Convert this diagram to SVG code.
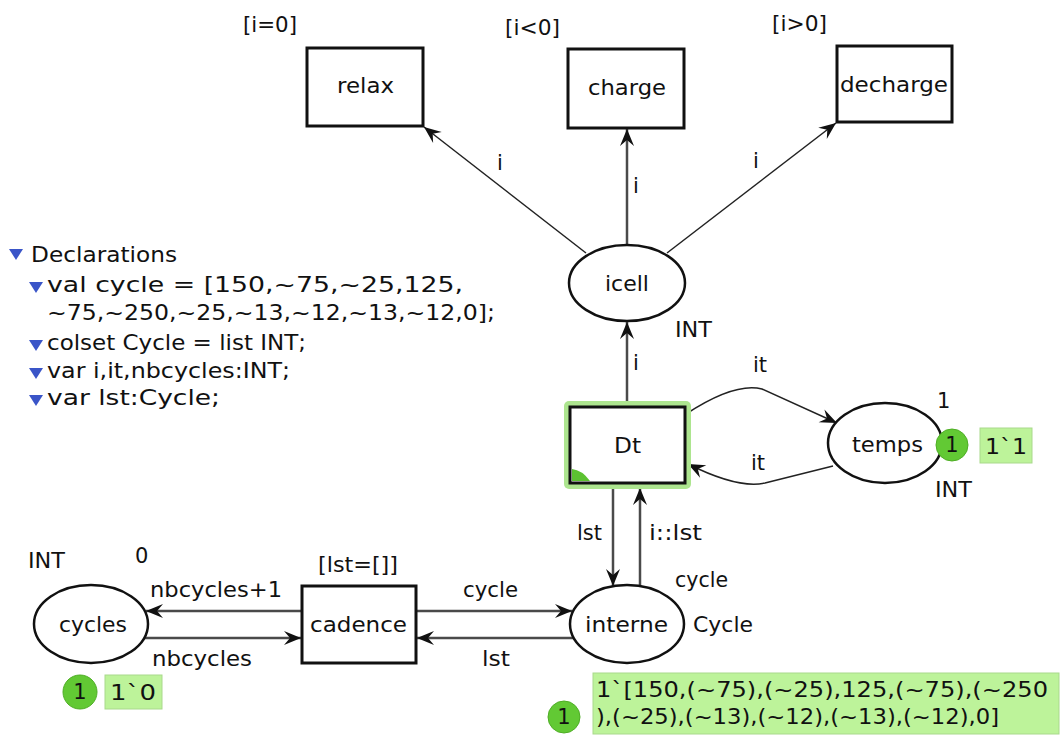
<svg xmlns="http://www.w3.org/2000/svg" width="1062" height="735" viewBox="0 0 1062 735">
<style>
.t{font-family:"DejaVu Sans",Verdana,sans-serif;font-size:21px;fill:#111}
.box{fill:#fff;stroke:#111;stroke-width:3}
.pl{fill:#fff;stroke:#111;stroke-width:2.5}
.arc{fill:none;stroke:#4a4a4a;stroke-width:2.5}
.arcd{fill:none;stroke:#222;stroke-width:1.5}
.tok{fill:#62c934;stroke:#4fae26;stroke-width:1}
.mk{fill:#bdf39a;stroke:#a9d98c;stroke-width:1}
.tri{fill:#3a55c8}
</style>
<defs>
<marker id="ah" viewBox="-18 -9 20 18" refX="0" refY="0" markerWidth="20" markerHeight="18" orient="auto" markerUnits="userSpaceOnUse">
<path d="M0,0 L-17,-7 L-11,0 L-17,7 Z" fill="#111"/>
</marker>
</defs>
<rect width="1062" height="735" fill="#fff"/>

<g id="connectors">
<line class="arcd" x1="586" y1="253" x2="424" y2="127" marker-end="url(#ah)"/>
<line class="arc" x1="627" y1="245" x2="627" y2="129" marker-end="url(#ah)"/>
<line class="arcd" x1="667" y1="253" x2="836" y2="123" marker-end="url(#ah)"/>
<line class="arc" x1="627" y1="401" x2="627" y2="322" marker-end="url(#ah)"/>
<path class="arcd" d="M686,414 Q735,382 762,389 L837,423" marker-end="url(#ah)"/>
<path class="arcd" d="M833,466 L765,483 Q738,489 688,464" marker-end="url(#ah)"/>
<line class="arc" x1="613" y1="489" x2="613" y2="586" marker-end="url(#ah)"/>
<line class="arc" x1="640" y1="586" x2="640" y2="488" marker-end="url(#ah)"/>
<line class="arc" x1="416" y1="611" x2="572" y2="611" marker-end="url(#ah)"/>
<line class="arc" x1="574" y1="638" x2="417" y2="638" marker-end="url(#ah)"/>
<line class="arc" x1="302" y1="611" x2="146" y2="611" marker-end="url(#ah)"/>
<line class="arc" x1="145" y1="638" x2="301" y2="638" marker-end="url(#ah)"/>
<text class="t" x="497" y="170">i</text>
<text class="t" x="633" y="193">i</text>
<text class="t" x="753" y="168">i</text>
<text class="t" x="633" y="370">i</text>
<text class="t" x="753" y="372">it</text>
<text class="t" x="751" y="470">it</text>
<text class="t" x="577" y="540" textLength="25" lengthAdjust="spacingAndGlyphs">lst</text>
<text class="t" x="649" y="540" textLength="53" lengthAdjust="spacingAndGlyphs">i::lst</text>
<text class="t" x="463" y="597" textLength="55" lengthAdjust="spacingAndGlyphs">cycle</text>
<text class="t" x="482" y="666" textLength="28" lengthAdjust="spacingAndGlyphs">lst</text>
<text class="t" x="150" y="597" textLength="132" lengthAdjust="spacingAndGlyphs">nbcycles+1</text>
<text class="t" x="152" y="666" textLength="100" lengthAdjust="spacingAndGlyphs">nbcycles</text>
</g>

<g id="declarations">
<path class="tri" d="M9,249 L23,249 L16,260 Z"/>
<text class="t" x="31" y="262" textLength="146" lengthAdjust="spacingAndGlyphs">Declarations</text>
<path class="tri" d="M29,282 L43,282 L36,293 Z"/>
<text class="t" x="47" y="292" textLength="416" lengthAdjust="spacingAndGlyphs">val cycle = [150,~75,~25,125,</text>
<text class="t" x="47" y="320" textLength="448" lengthAdjust="spacingAndGlyphs">~75,~250,~25,~13,~12,~13,~12,0];</text>
<path class="tri" d="M29,340 L43,340 L36,351 Z"/>
<text class="t" x="47" y="350" textLength="259" lengthAdjust="spacingAndGlyphs">colset Cycle = list INT;</text>
<path class="tri" d="M29,368 L43,368 L36,379 Z"/>
<text class="t" x="47" y="378" textLength="243" lengthAdjust="spacingAndGlyphs">var i,it,nbcycles:INT;</text>
<path class="tri" d="M29,395 L43,395 L36,406 Z"/>
<text class="t" x="47" y="405" textLength="173" lengthAdjust="spacingAndGlyphs">var lst:Cycle;</text>
</g>

<g id="relax">
<rect class="box" x="307" y="48" width="116" height="78"/>
<text class="t" x="337" y="93" textLength="57" lengthAdjust="spacingAndGlyphs">relax</text>
<text class="t" x="243" y="32" textLength="54" lengthAdjust="spacingAndGlyphs">[i=0]</text>
</g>
<g id="charge">
<rect class="box" x="568" y="49" width="116" height="79"/>
<text class="t" x="588" y="95" textLength="78" lengthAdjust="spacingAndGlyphs">charge</text>
<text class="t" x="505" y="35" textLength="55" lengthAdjust="spacingAndGlyphs">[i&lt;0]</text>
</g>
<g id="decharge">
<rect class="box" x="837" y="46" width="115" height="76"/>
<text class="t" x="840" y="92" textLength="108" lengthAdjust="spacingAndGlyphs">decharge</text>
<text class="t" x="772" y="31" textLength="55" lengthAdjust="spacingAndGlyphs">[i&gt;0]</text>
</g>
<g id="icell">
<ellipse class="pl" cx="627" cy="283" rx="58" ry="38"/>
<text class="t" x="605" y="291" textLength="44" lengthAdjust="spacingAndGlyphs">icell</text>
<text class="t" x="675" y="337" textLength="37" lengthAdjust="spacingAndGlyphs">INT</text>
</g>
<g id="Dt">
<rect x="564" y="401" width="127" height="88" rx="5" fill="#ade58f"/>
<rect class="box" x="570" y="407" width="115" height="76" stroke="#1d2d14"/>
<path d="M572,481 L572,469 Q582,470 590,481 Z" fill="#5cc231"/>
<text class="t" x="614" y="453" textLength="27" lengthAdjust="spacingAndGlyphs">Dt</text>
</g>
<g id="temps">
<ellipse class="pl" cx="885" cy="443" rx="57" ry="40"/>
<text class="t" x="852" y="452" textLength="71" lengthAdjust="spacingAndGlyphs">temps</text>
<text class="t" x="937" y="408">1</text>
<text class="t" x="935" y="497" textLength="37" lengthAdjust="spacingAndGlyphs">INT</text>
<circle class="tok" cx="952" cy="445" r="16"/>
<text class="t" x="952" y="452" text-anchor="middle">1</text>
<rect class="mk" x="980" y="428" width="52" height="35"/>
<text class="t" x="985" y="454" textLength="42" lengthAdjust="spacingAndGlyphs">1`1</text>
</g>
<g id="interne">
<ellipse class="pl" cx="627" cy="624" rx="57" ry="39"/>
<text class="t" x="585" y="632" textLength="83" lengthAdjust="spacingAndGlyphs">interne</text>
<text class="t" x="675" y="587" textLength="53" lengthAdjust="spacingAndGlyphs">cycle</text>
<text class="t" x="693" y="632" textLength="60" lengthAdjust="spacingAndGlyphs">Cycle</text>
<circle class="tok" cx="564" cy="717" r="16"/>
<text class="t" x="564" y="724" text-anchor="middle">1</text>
<rect class="mk" x="593" y="673" width="466" height="61"/>
<text class="t" x="596" y="697" textLength="452" lengthAdjust="spacingAndGlyphs">1`[150,(~75),(~25),125,(~75),(~250</text>
<text class="t" x="596" y="724" textLength="403" lengthAdjust="spacingAndGlyphs">),(~25),(~13),(~12),(~13),(~12),0]</text>
</g>
<g id="cadence">
<rect class="box" x="302" y="586" width="114" height="77"/>
<text class="t" x="310" y="632" textLength="97" lengthAdjust="spacingAndGlyphs">cadence</text>
<text class="t" x="318" y="572" textLength="80" lengthAdjust="spacingAndGlyphs">[lst=[]]</text>
</g>
<g id="cycles">
<ellipse class="pl" cx="91" cy="624" rx="57" ry="39"/>
<text class="t" x="59" y="632" textLength="68" lengthAdjust="spacingAndGlyphs">cycles</text>
<text class="t" x="28" y="568" textLength="37" lengthAdjust="spacingAndGlyphs">INT</text>
<text class="t" x="135" y="563">0</text>
<circle class="tok" cx="80" cy="692" r="17"/>
<text class="t" x="80" y="699" text-anchor="middle">1</text>
<rect class="mk" x="105" y="675" width="57" height="34"/>
<text class="t" x="110" y="700" textLength="46" lengthAdjust="spacingAndGlyphs">1`0</text>
</g>
</svg>
